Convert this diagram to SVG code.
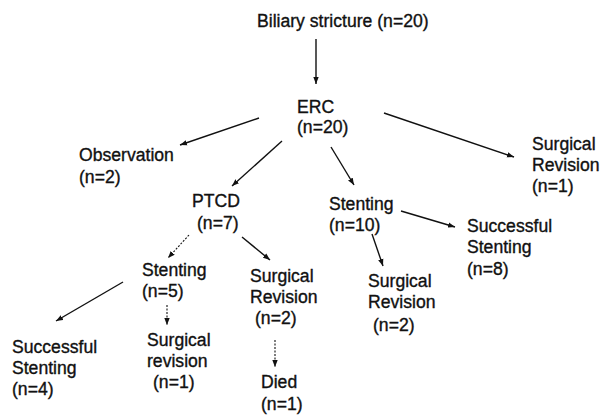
<svg xmlns="http://www.w3.org/2000/svg" width="600" height="415" viewBox="0 0 600 415">
<defs>
<marker id="ah" markerUnits="userSpaceOnUse" markerWidth="8" markerHeight="6" refX="7" refY="3" orient="auto">
<path d="M0,0.3 L7,3 L0,5.7 Z" fill="#111"/>
</marker>
<style>
text{font-family:"Liberation Sans",Arial,Helvetica,sans-serif;font-size:17.6px;fill:#111;stroke:#111;stroke-width:0.35;}
.c line{stroke:#111;stroke-width:1.4;marker-end:url(#ah);}
.c .dot{stroke-dasharray:2 1.5;stroke-width:1.1;}
</style>
</defs>
<rect width="600" height="415" fill="#fff"/>
<g class="c" id="connectors">
<line x1="316" y1="39" x2="316" y2="84"/>
<line x1="259" y1="118" x2="180" y2="145"/>
<line x1="282" y1="141" x2="232" y2="186"/>
<line x1="331" y1="147" x2="354" y2="185"/>
<line x1="384" y1="113" x2="514" y2="157"/>
<line x1="401" y1="211" x2="455" y2="227"/>
<line x1="372" y1="234" x2="383" y2="266"/>
<line class="dot" x1="189" y1="235" x2="168" y2="258"/>
<line x1="242" y1="237" x2="270" y2="260"/>
<line x1="123" y1="282" x2="56" y2="321"/>
<line class="dot" x1="167" y1="305" x2="167" y2="325"/>
<line class="dot" x1="275" y1="340" x2="275" y2="367"/>
</g>
<g id="biliary"><text x="257" y="27">Biliary stricture (n=20)</text></g>
<g id="erc"><text x="297" y="113">ERC</text><text x="297" y="133">(n=20)</text></g>
<g id="observation"><text x="79" y="161">Observation</text><text x="79" y="183">(n=2)</text></g>
<g id="ptcd"><text x="192" y="207">PTCD</text><text x="197" y="229">(n=7)</text></g>
<g id="stenting10"><text x="329" y="210">Stenting</text><text x="329" y="231">(n=10)</text></g>
<g id="surgrev1"><text x="532" y="150">Surgical</text><text x="532" y="171">Revision</text><text x="532" y="192">(n=1)</text></g>
<g id="success8"><text x="467" y="232">Successful</text><text x="467" y="253">Stenting</text><text x="467" y="275">(n=8)</text></g>
<g id="surgrev2r"><text x="368" y="287">Surgical</text><text x="368" y="308">Revision</text><text x="373" y="331">(n=2)</text></g>
<g id="stenting5"><text x="142" y="276">Stenting</text><text x="142" y="297">(n=5)</text></g>
<g id="surgrev2m"><text x="250" y="282">Surgical</text><text x="250" y="303">Revision</text><text x="255" y="324">(n=2)</text></g>
<g id="surgrev1m"><text x="147" y="346">Surgical</text><text x="147" y="367">revision</text><text x="153" y="388">(n=1)</text></g>
<g id="success4"><text x="12" y="353">Successful</text><text x="12" y="374">Stenting</text><text x="12" y="395">(n=4)</text></g>
<g id="died"><text x="261" y="388">Died</text><text x="261" y="410">(n=1)</text></g>
</svg>
